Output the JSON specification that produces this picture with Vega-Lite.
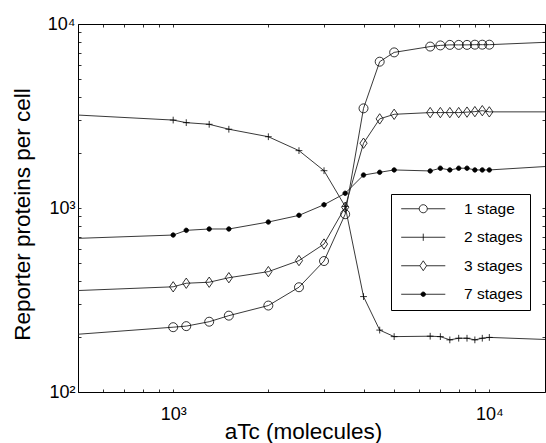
{
  "$schema": "https://vega.github.io/schema/vega-lite/v6.json",
  "width": 467,
  "height": 368,
  "autosize": {"type": "none"},
  "padding": {"left": 78, "top": 24, "right": 1, "bottom": 51},
  "background": "white",
  "config": {
    "view": {"stroke": null},
    "font": "Liberation Sans",
    "axis": {
      "grid": false,
      "domainColor": "black",
      "domainWidth": 1,
      "tickColor": "black",
      "tickWidth": 0.8,
      "tickSize": -3,
      "labelColor": "black",
      "titleColor": "black",
      "labelFont": "Liberation Sans",
      "titleFont": "Liberation Sans",
      "labelFontSize": 18,
      "titleFontSize": 22.5,
      "titleFontWeight": "normal",
      "labelOverlap": false,
      "labelFlush": false,
      "labelBound": false
    }
  },
  "data": {
    "values": [
      {"series": "1 stage", "x": 500, "y": 206},
      {"series": "1 stage", "x": 1000, "y": 225},
      {"series": "1 stage", "x": 1100, "y": 228},
      {"series": "1 stage", "x": 1300, "y": 241},
      {"series": "1 stage", "x": 1500, "y": 260},
      {"series": "1 stage", "x": 2000, "y": 295},
      {"series": "1 stage", "x": 2500, "y": 371},
      {"series": "1 stage", "x": 3000, "y": 515},
      {"series": "1 stage", "x": 3500, "y": 925},
      {"series": "1 stage", "x": 4000, "y": 3480},
      {"series": "1 stage", "x": 4500, "y": 6240},
      {"series": "1 stage", "x": 5000, "y": 7010},
      {"series": "1 stage", "x": 6500, "y": 7540},
      {"series": "1 stage", "x": 7000, "y": 7650},
      {"series": "1 stage", "x": 7500, "y": 7700},
      {"series": "1 stage", "x": 8000, "y": 7700},
      {"series": "1 stage", "x": 8500, "y": 7700},
      {"series": "1 stage", "x": 9000, "y": 7720},
      {"series": "1 stage", "x": 9500, "y": 7720},
      {"series": "1 stage", "x": 10000, "y": 7720},
      {"series": "1 stage", "x": 15000, "y": 7950},
      {"series": "2 stages", "x": 500, "y": 3200},
      {"series": "2 stages", "x": 1000, "y": 3005},
      {"series": "2 stages", "x": 1100, "y": 2910},
      {"series": "2 stages", "x": 1300, "y": 2850},
      {"series": "2 stages", "x": 1500, "y": 2680},
      {"series": "2 stages", "x": 2000, "y": 2440},
      {"series": "2 stages", "x": 2500, "y": 2050},
      {"series": "2 stages", "x": 3000, "y": 1595},
      {"series": "2 stages", "x": 3500, "y": 1020},
      {"series": "2 stages", "x": 4000, "y": 330},
      {"series": "2 stages", "x": 4500, "y": 217},
      {"series": "2 stages", "x": 5000, "y": 200},
      {"series": "2 stages", "x": 6500, "y": 201},
      {"series": "2 stages", "x": 7000, "y": 200},
      {"series": "2 stages", "x": 7500, "y": 192},
      {"series": "2 stages", "x": 8000, "y": 196},
      {"series": "2 stages", "x": 8500, "y": 196},
      {"series": "2 stages", "x": 9000, "y": 192},
      {"series": "2 stages", "x": 9500, "y": 196},
      {"series": "2 stages", "x": 10000, "y": 198},
      {"series": "2 stages", "x": 15000, "y": 193},
      {"series": "3 stages", "x": 500, "y": 356},
      {"series": "3 stages", "x": 1000, "y": 373},
      {"series": "3 stages", "x": 1100, "y": 390},
      {"series": "3 stages", "x": 1300, "y": 395},
      {"series": "3 stages", "x": 1500, "y": 418},
      {"series": "3 stages", "x": 2000, "y": 451},
      {"series": "3 stages", "x": 2500, "y": 518},
      {"series": "3 stages", "x": 3000, "y": 637},
      {"series": "3 stages", "x": 3500, "y": 1010},
      {"series": "3 stages", "x": 4000, "y": 2250},
      {"series": "3 stages", "x": 4500, "y": 3050},
      {"series": "3 stages", "x": 5000, "y": 3230},
      {"series": "3 stages", "x": 6500, "y": 3300},
      {"series": "3 stages", "x": 7000, "y": 3300},
      {"series": "3 stages", "x": 7500, "y": 3300},
      {"series": "3 stages", "x": 8000, "y": 3300},
      {"series": "3 stages", "x": 8500, "y": 3320},
      {"series": "3 stages", "x": 9000, "y": 3340},
      {"series": "3 stages", "x": 9500, "y": 3380},
      {"series": "3 stages", "x": 10000, "y": 3330},
      {"series": "3 stages", "x": 15000, "y": 3330},
      {"series": "7 stages", "x": 500, "y": 684},
      {"series": "7 stages", "x": 1000, "y": 713},
      {"series": "7 stages", "x": 1100, "y": 756},
      {"series": "7 stages", "x": 1300, "y": 769},
      {"series": "7 stages", "x": 1500, "y": 769},
      {"series": "7 stages", "x": 2000, "y": 839},
      {"series": "7 stages", "x": 2500, "y": 912},
      {"series": "7 stages", "x": 3000, "y": 1042},
      {"series": "7 stages", "x": 3500, "y": 1202},
      {"series": "7 stages", "x": 4000, "y": 1510},
      {"series": "7 stages", "x": 4500, "y": 1563},
      {"series": "7 stages", "x": 5000, "y": 1610},
      {"series": "7 stages", "x": 6500, "y": 1590},
      {"series": "7 stages", "x": 7000, "y": 1645},
      {"series": "7 stages", "x": 7500, "y": 1610},
      {"series": "7 stages", "x": 8000, "y": 1645},
      {"series": "7 stages", "x": 8500, "y": 1645},
      {"series": "7 stages", "x": 9000, "y": 1610},
      {"series": "7 stages", "x": 9500, "y": 1610},
      {"series": "7 stages", "x": 10000, "y": 1610},
      {"series": "7 stages", "x": 15000, "y": 1680}
    ]
  },
  "layer": [
    {
      "mark": {"type": "line", "stroke": "#222222", "strokeWidth": 0.9, "clip": true},
      "encoding": {
        "x": {
          "field": "x", "type": "quantitative",
          "scale": {"type": "log", "domain": [500, 15000], "nice": false},
          "axis": {
            "orient": "bottom",
            "values": [500, 600, 700, 800, 900, 1000, 2000, 3000, 4000, 5000, 6000, 7000, 8000, 9000, 10000],
            "labelExpr": "datum.value == 1000 ? '10³' : datum.value == 10000 ? '10⁴' : ''",
            "labelPadding": 16,
            "title": "aTc (molecules)",
            "titleX": 225,
            "titleY": 46,
            "titleBaseline": "alphabetic",
            "titleAnchor": null,
            "titleAlign": "center"
          }
        },
        "y": {
          "field": "y", "type": "quantitative",
          "scale": {"type": "log", "domain": [100, 10000], "nice": false},
          "axis": {
            "orient": "left",
            "values": [100, 200, 300, 400, 500, 600, 700, 800, 900, 1000, 2000, 3000, 4000, 5000, 6000, 7000, 8000, 9000, 10000],
            "labelExpr": "datum.value == 100 ? '10²' : datum.value == 1000 ? '10³' : datum.value == 10000 ? '10⁴' : ''",
            "labelPadding": 6,
            "title": "Reporter proteins per cell",
            "titleX": -56,
            "titleY": 190,
            "titleBaseline": "middle",
            "titleAlign": "center",
            "titleAngle": -90
          }
        },
        "detail": {"field": "series", "type": "nominal"}
      }
    },
    {
      "transform": [{"filter": "datum.x >= 1000 && datum.x <= 10000"}],
      "mark": {"type": "point", "filled": true, "stroke": "black", "strokeWidth": 0.8, "size": 81, "opacity": 1},
      "encoding": {
        "x": {
          "field": "x", "type": "quantitative",
          "scale": {"type": "log", "domain": [500, 15000], "nice": false},
          "axis": {
            "orient": "top", "labels": false, "title": null,
            "values": [500, 600, 700, 800, 900, 1000, 2000, 3000, 4000, 5000, 6000, 7000, 8000, 9000, 10000]
          }
        },
        "y": {
          "field": "y", "type": "quantitative",
          "scale": {"type": "log", "domain": [100, 10000], "nice": false},
          "axis": {
            "orient": "right", "labels": false, "title": null,
            "values": [100, 200, 300, 400, 500, 600, 700, 800, 900, 1000, 2000, 3000, 4000, 5000, 6000, 7000, 8000, 9000, 10000]
          }
        },
        "shape": {
          "field": "series", "type": "nominal",
          "scale": {
            "domain": ["1 stage", "2 stages", "3 stages", "7 stages"],
            "range": [
              "M-1,0A1,1 0 1,0 1,0A1,1 0 1,0 -1,0Z",
              "M-0.75,0H0.75M0,-0.75V0.75",
              "M0,-1.15L0.8,0L0,1.15L-0.8,0Z",
              "M-0.5,0A0.5,0.5 0 1,0 0.5,0A0.5,0.5 0 1,0 -0.5,0Z"
            ]
          },
          "legend": null
        },
        "fill": {
          "condition": {"test": "datum.series === '7 stages'", "value": "black"},
          "value": "transparent"
        }
      }
    },
    {
      "transform": [{"filter": "false"}],
      "mark": {"type": "point", "filled": true, "stroke": "black", "strokeWidth": 0.8, "size": 81, "opacity": 1},
      "encoding": {
        "x": {"field": "x", "type": "quantitative", "scale": {"type": "log", "domain": [500, 15000], "nice": false}, "axis": null},
        "y": {"field": "y", "type": "quantitative", "scale": {"type": "log", "domain": [100, 10000], "nice": false}, "axis": null},
        "shape": {
          "field": "series", "type": "nominal",
          "scale": {
            "domain": ["1 stage", "2 stages", "3 stages", "7 stages"],
            "range": [
              "M-4.9,0H-0.9M0.9,0H4.9M-0.9,0A0.9,0.9 0 1,0 0.9,0A0.9,0.9 0 1,0 -0.9,0Z",
              "M-4.9,0H4.9M0,-0.8V0.8",
              "M-4.9,0H-0.75M0.75,0H4.9M0,-1.1L0.75,0L0,1.1L-0.75,0Z",
              "M-4.9,0H4.9M-0.5,0A0.5,0.5 0 1,0 0.5,0A0.5,0.5 0 1,0 -0.5,0Z"
            ]
          },
          "legend": {
            "orient": "none",
            "legendX": 313,
            "legendY": 170,
            "title": null,
            "strokeColor": "black",
            "fillColor": "white",
            "padding": 7,
            "symbolSize": 81,
            "symbolOffset": 17.5,
            "labelOffset": 33,
            "labelFontSize": 15.5,
            "labelFont": "Liberation Sans",
            "labelColor": "black",
            "labelLimit": 200,
            "rowPadding": 11.5,
            "symbolStrokeWidth": 0.8,
            "symbolStrokeColor": "black"
          }
        },
        "fill": {
          "field": "series", "type": "nominal",
          "scale": {
            "domain": ["1 stage", "2 stages", "3 stages", "7 stages"],
            "range": ["transparent", "transparent", "transparent", "black"]
          },
          "legend": {
            "orient": "none",
            "legendX": 313,
            "legendY": 170,
            "title": null
          }
        },
        "stroke": {
          "field": "series", "type": "nominal",
          "scale": {
            "domain": ["1 stage", "2 stages", "3 stages", "7 stages"],
            "range": ["black", "black", "black", "black"]
          },
          "legend": {
            "orient": "none",
            "legendX": 313,
            "legendY": 170,
            "title": null
          }
        }
      }
    }
  ],
  "resolve": {
    "axis": {"x": "independent", "y": "independent"},
    "scale": {"shape": "independent", "fill": "independent", "stroke": "independent"}
  }
}
